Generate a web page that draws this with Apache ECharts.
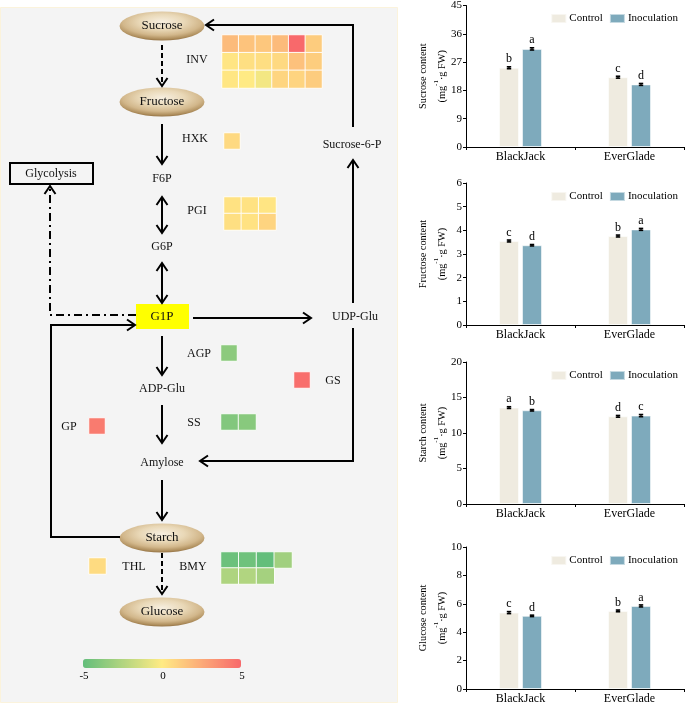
<!DOCTYPE html>
<html><head><meta charset="utf-8">
<script src="https://cdn.jsdelivr.net/npm/echarts@6/dist/echarts.min.js"></script>
<style>html,body{margin:0;padding:0;background:#fff}#c{width:685px;height:705px}</style>
</head><body><div id="c"></div>
<script>
const FONT = '"Liberation Serif", "Times New Roman", serif';

// ---------- bar chart data ----------
const categories = ['BlackJack', 'EverGlade'];
const seriesNames = ['Control', 'Inoculation'];

const sucroseControl = [25.2, 22.2];
const sucroseInoculation = [31.2, 19.9];
const sucroseErrControl = [0.3, 0.3];
const sucroseErrInoculation = [0.35, 0.3];
const sucroseLettersControl = ['b', 'c'];
const sucroseLettersInoculation = ['a', 'd'];
const sucroseTicks = [0, 9, 18, 27, 36, 45];

const fructoseControl = [3.55, 3.76];
const fructoseInoculation = [3.37, 4.04];
const fructoseErrControl = [0.04, 0.04];
const fructoseErrInoculation = [0.03, 0.04];
const fructoseLettersControl = ['c', 'b'];
const fructoseLettersInoculation = ['d', 'a'];
const fructoseTicks = [0, 1, 2, 3, 4, 5, 6];

const starchControl = [13.58, 12.35];
const starchInoculation = [13.2, 12.45];
const starchErrControl = [0.12, 0.12];
const starchErrInoculation = [0.1, 0.15];
const starchLettersControl = ['a', 'd'];
const starchLettersInoculation = ['b', 'c'];
const starchTicks = [0, 5, 10, 15, 20];

const glucoseControl = [5.38, 5.5];
const glucoseInoculation = [5.15, 5.85];
const glucoseErrControl = [0.07, 0.06];
const glucoseErrInoculation = [0.05, 0.07];
const glucoseLettersControl = ['c', 'b'];
const glucoseLettersInoculation = ['d', 'a'];
const glucoseTicks = [0, 2, 4, 6, 8, 10];

// ---------- heatmap data (log2 fold change, -5..5) ----------
const invValues = [[1.85, 1.55, 1.4, 1.85, 5.0, 1.2], [0.25, 0.45, 0.5, 0.7, 1.6, 1.15], [0.2, 0.05, -0.4, 0.85, 0.9, 1.2]];
const hxkValues = [[0.7]];
const pgiValues = [[0.35, 0.35, 0.25], [0.45, 0.35, 0.9]];
const agpValues = [[-3.7]];
const gsValues = [[4.8]];
const gpValues = [[4.3]];
const ssValues = [[-4.0, -3.8]];
const thlValues = [[0.6]];
const bmyValues = [[-4.7, -4.6, -5.0, -3.0], [-2.6, -2.5, -2.9, null]];
const colorbarTicks = [-5, 0, 5];

// ---------- build ----------
const barColors = ['#efebe0', '#7eaabc'];
const barPanels = [
  { title: 'Sucrose', c: sucroseControl, i: sucroseInoculation, ec: sucroseErrControl, ei: sucroseErrInoculation, lc: sucroseLettersControl, li: sucroseLettersInoculation, ticks: sucroseTicks, top: 5, height: 142 },
  { title: 'Fructose', c: fructoseControl, i: fructoseInoculation, ec: fructoseErrControl, ei: fructoseErrInoculation, lc: fructoseLettersControl, li: fructoseLettersInoculation, ticks: fructoseTicks, top: 183, height: 142 },
  { title: 'Starch', c: starchControl, i: starchInoculation, ec: starchErrControl, ei: starchErrInoculation, lc: starchLettersControl, li: starchLettersInoculation, ticks: starchTicks, top: 362, height: 142 },
  { title: 'Glucose', c: glucoseControl, i: glucoseInoculation, ec: glucoseErrControl, ei: glucoseErrInoculation, lc: glucoseLettersControl, li: glucoseLettersInoculation, ticks: glucoseTicks, top: 547, height: 143 }
];

const heatPanels = [
  { v: invValues, left: 222, top: 35, width: 100, height: 53 },
  { v: hxkValues, left: 224, top: 133, width: 16, height: 16 },
  { v: pgiValues, left: 224, top: 197, width: 52, height: 33 },
  { v: agpValues, left: 221, top: 345, width: 16, height: 16 },
  { v: gsValues, left: 294, top: 372, width: 16, height: 16 },
  { v: gpValues, left: 89, top: 418, width: 16, height: 16 },
  { v: ssValues, left: 221, top: 414, width: 35, height: 16 },
  { v: thlValues, left: 89, top: 558, width: 17, height: 16 },
  { v: bmyValues, left: 221, top: 552, width: 71, height: 32 }
];

const grid = [], xAxis = [], yAxis = [], series = [], legend = [];
const axisLineStyle = { color: '#000', width: 1 };

barPanels.forEach((p, k) => {
  grid.push({ left: 466, right: 1, top: p.top, height: p.height });
  xAxis.push({
    gridIndex: k, type: 'category', data: categories,
    axisLine: { lineStyle: axisLineStyle },
    axisTick: { show: true, length: 3, lineStyle: axisLineStyle },
    axisLabel: { color: '#000', fontFamily: FONT, fontSize: 12, margin: 4 }
  });
  const t = p.ticks;
  yAxis.push({
    gridIndex: k, type: 'value', min: t[0], max: t[t.length - 1], interval: t[1] - t[0],
    name: '{t|' + p.title + ' content}\n{t|(mg}{s|-1}{t|·g FW)}',
    nameLocation: 'middle', nameGap: 14, nameMoveOverlap: false,
    nameTextStyle: { color: '#000', fontFamily: FONT, fontSize: 10.3, lineHeight: 19,
      rich: { t: { fontFamily: FONT, fontSize: 10.3, color: '#000', lineHeight: 19 }, s: { fontFamily: FONT, fontSize: 7, color: '#000', verticalAlign: 'top', lineHeight: 13 } } },
    axisLine: { show: true, lineStyle: axisLineStyle },
    axisTick: { show: true, length: 3, lineStyle: axisLineStyle },
    axisLabel: { color: '#000', fontFamily: FONT, fontSize: 11, margin: 4 },
    splitLine: { show: false }
  });
  const groups = [[p.c, p.ec, p.lc], [p.i, p.ei, p.li]];
  groups.forEach((g, s) => {
    series.push({
      type: 'bar', name: seriesNames[s], xAxisIndex: k, yAxisIndex: k,
      data: g[0], barWidth: 20, barGap: '15%',
      itemStyle: { color: barColors[s], borderColor: 'rgba(255,255,255,0.55)', borderWidth: 1 },
      z: 2
    });
  });
  groups.forEach((g, s) => {
    const letters = g[2];
    series.push({
      type: 'custom', xAxisIndex: k, yAxisIndex: k, silent: true, z: 5,
      data: g[0].map((v, j) => [j, v, g[1][j]]),
      renderItem: function (params, api) {
        const cat = api.value(0), val = api.value(1), err = api.value(2);
        const off = (s === 0 ? -1 : 1) * 11.5;
        const x = api.coord([cat, val])[0] + off;
        const yt = api.coord([cat, val + err])[1];
        const yb = api.coord([cat, val - err])[1];
        return { type: 'group', children: [
          { type: 'line', shape: { x1: x, y1: yt, x2: x, y2: yb }, style: { stroke: '#000', lineWidth: 1.2 } },
          { type: 'line', shape: { x1: x - 2.2, y1: yt, x2: x + 2.2, y2: yt }, style: { stroke: '#000', lineWidth: 1.6 } },
          { type: 'line', shape: { x1: x - 2.2, y1: yb, x2: x + 2.2, y2: yb }, style: { stroke: '#000', lineWidth: 1.6 } },
          { type: 'text', style: { text: letters[params.dataIndex], x: x, y: yt - 1.5, align: 'center', verticalAlign: 'bottom', fontFamily: FONT, fontSize: 12, fill: '#000' } }
        ] };
      }
    });
  });
  legend.push({
    top: p.top + 3, right: 2, icon: 'rect', itemWidth: 15, itemHeight: 9, itemGap: 6,
    data: seriesNames, selectedMode: false,
    textStyle: { color: '#000', fontFamily: FONT, fontSize: 11, padding: [0, 0, 0, -2] }
  });
});

const heatSeriesIdx = [];
heatPanels.forEach((h) => {
  const gi = grid.length;
  const rows = h.v.length, cols = h.v[0].length;
  grid.push({ left: h.left, top: h.top, width: h.width, height: h.height });
  xAxis.push({ gridIndex: gi, type: 'category', data: Array.from({ length: cols }, (_, j) => j), show: false });
  yAxis.push({ gridIndex: gi, type: 'category', data: Array.from({ length: rows }, (_, j) => j), show: false, inverse: true });
  const data = [];
  h.v.forEach((row, r) => row.forEach((val, c) => { if (val !== null) data.push([c, r, val]); }));
  heatSeriesIdx.push(series.length);
  series.push({ type: 'heatmap', xAxisIndex: gi, yAxisIndex: gi, data: data, silent: true,
    itemStyle: { borderColor: 'rgba(255,255,255,0.9)', borderWidth: 1 }, z: 3 });
});

// colour-bar axis
const cbGi = grid.length;
grid.push({ left: 84, width: 158, top: 659, height: 9 });
xAxis.push({ gridIndex: cbGi, type: 'value', min: colorbarTicks[0], max: colorbarTicks[colorbarTicks.length - 1], interval: colorbarTicks[1] - colorbarTicks[0],
  axisLine: { show: false }, axisTick: { show: false }, splitLine: { show: false },
  axisLabel: { color: '#000', fontFamily: FONT, fontSize: 11, margin: 3 } });
yAxis.push({ gridIndex: cbGi, type: 'value', show: false });

// ---------- pathway diagram (decoration) ----------
const graphic = [];
graphic.push({ type: 'rect', shape: { x: 0.5, y: 7.5, width: 397, height: 695 }, style: { fill: '#f4f4f4', stroke: '#fbf3dc', lineWidth: 1 }, z: -10, silent: true });

const ellGrad = { type: 'radial', x: 0.5, y: 0.36, r: 0.66, colorStops: [
  { offset: 0, color: '#f7efe0' }, { offset: 0.4, color: '#e9d8b7' }, { offset: 0.7, color: '#d2b78b' }, { offset: 0.88, color: '#b0905f' }, { offset: 1, color: '#8c6a3c' }] };
[['Sucrose', 26], ['Fructose', 102], ['Starch', 538], ['Glucose', 612]].forEach(([t, cy]) => {
  graphic.push({ type: 'circle', x: 162, y: cy, scaleX: 42.5 / 14.5, shape: { cx: 0, cy: 0, r: 14.5 }, style: { fill: ellGrad }, z: 1, silent: true });
  graphic.push({ type: 'text', style: { text: t, x: 162, y: cy, align: 'center', verticalAlign: 'middle', fontFamily: FONT, fontSize: 13, fill: '#111' }, z: 2, silent: true });
});
graphic.push({ type: 'rect', shape: { x: 136, y: 304, width: 53, height: 25 }, style: { fill: '#ffff00' }, z: 1, silent: true });
graphic.push({ type: 'rect', shape: { x: 10, y: 163, width: 83, height: 21 }, style: { fill: 'none', stroke: '#000', lineWidth: 2 }, z: 1, silent: true });

const labels = [
  ['Glycolysis', 51, 173.5], ['G1P', 162, 317, 13], ['INV', 197, 60], ['HXK', 195, 139], ['F6P', 162, 179], ['PGI', 197, 211],
  ['Sucrose-6-P', 352, 145], ['G6P', 162, 247], ['UDP-Glu', 355, 317], ['AGP', 199, 354], ['ADP-Glu', 162, 389],
  ['GS', 333, 381], ['GP', 69, 427], ['SS', 194, 423], ['Amylose', 162, 463], ['THL', 134, 567], ['BMY', 193, 567]
];
labels.forEach(([t, x, y, fs]) => graphic.push({ type: 'text', style: { text: t, x: x, y: y, align: 'center', verticalAlign: 'middle', fontFamily: FONT, fontSize: fs || 12, fill: '#111' }, z: 2, silent: true }));

function head(p, q) {
  const dx = p[0] - q[0], dy = p[1] - q[1], L = Math.hypot(dx, dy), ux = dx / L, uy = dy / L;
  const hl = 8, hw = 5.5;
  return { type: 'polyline', silent: true, z: 3, shape: { points: [[p[0] - ux * hl - uy * hw, p[1] - uy * hl + ux * hw], [p[0], p[1]], [p[0] - ux * hl + uy * hw, p[1] - uy * hl - ux * hw]] },
    style: { stroke: '#000', lineWidth: 2, fill: null, lineJoin: 'miter' } };
}
function arrow(pts, dash, both) {
  graphic.push({ type: 'polyline', silent: true, z: 3, shape: { points: pts }, style: { stroke: '#000', lineWidth: 2, fill: null, lineDash: dash || null } });
  const n = pts.length;
  graphic.push(head(pts[n - 1], pts[n - 2]));
  if (both) graphic.push(head(pts[0], pts[1]));
}
arrow([[162, 45], [162, 86]], [5, 3]);
arrow([[162, 124], [162, 164]]);
arrow([[162, 197], [162, 233]], null, true);
arrow([[162, 263], [162, 303]], null, true);
arrow([[193, 318], [311, 318]]);
arrow([[162, 336], [162, 375]]);
arrow([[162, 405], [162, 443]]);
arrow([[162, 480], [162, 520]]);
arrow([[162, 553], [162, 594]], [5, 3]);
arrow([[353, 303], [353, 160]]);
arrow([[353, 127], [353, 25], [206, 25]]);
arrow([[353, 328], [353, 461], [200, 461]]);
arrow([[120, 537], [51, 537], [51, 325], [135, 325]]);
arrow([[136, 315], [50, 315], [50, 186]], [8, 4, 2, 4]);

const option = {
  backgroundColor: '#ffffff',
  animation: false,
  textStyle: { fontFamily: FONT },
  grid: grid, xAxis: xAxis, yAxis: yAxis, legend: legend, series: series, graphic: graphic,
  visualMap: {
    type: 'continuous', min: -5, max: 5, orient: 'horizontal', left: 68, top: 644,
    itemWidth: 9, itemHeight: 158, calculable: false, seriesIndex: heatSeriesIdx,
    inRange: { color: ['#63be7b', '#ffeb84', '#f8696b'] }, textStyle: { color: '#000' }
  }
};
const chart = echarts.init(document.getElementById('c'), null, { renderer: 'canvas' });
chart.setOption(option);
</script></body></html>
